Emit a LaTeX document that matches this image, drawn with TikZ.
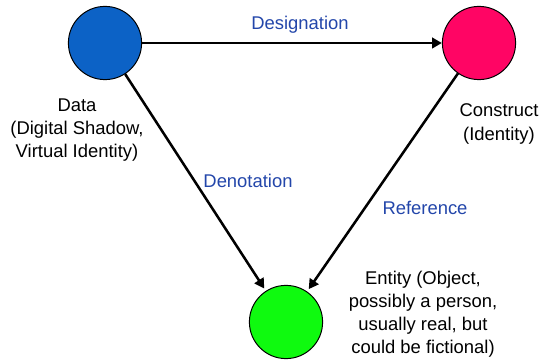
\documentclass[tikz,border=0pt]{standalone}
\usepackage{fontspec}
\setmainfont{Liberation Sans}
\usetikzlibrary{arrows.meta}
\definecolor{datablue}{RGB}{12,98,198}
\definecolor{constructpink}{RGB}{255,5,100}
\definecolor{entitygreen}{RGB}{15,250,15}
\definecolor{labelblue}{RGB}{35,70,170}
\tikzset{
  thing/.style={circle,draw=black,line width=0.7pt,minimum size=1.83cm,inner sep=0pt},
  rel/.style={line width=1.8pt,-{Triangle[length=7pt,width=7.5pt]}},
  caption/.style={align=center,font=\fontsize{13.1}{16.4}\selectfont},
  rellabel/.style={anchor=base,text=labelblue,font=\fontsize{13.1}{16.4}\selectfont}
}
\begin{document}
\begin{tikzpicture}[x=0.025cm,y=-0.025cm]
    \useasboundingbox (0,0) rectangle (547,360);
    % the three corners of the triangle
    \node [thing,fill=datablue] (data) at (105,43) {};
    \node [thing,fill=constructpink] (construct) at (479,43) {};
    \node [thing,fill=entitygreen] (entity) at (286,322) {};
    \node [caption] (datatext) at (77,130) {Data\\(Digital Shadow,\\Virtual Identity)};
    \node [caption] (constructtext) at (499,124) {Construct\\(Identity)};
    \node [caption] (entitytext) at (423,314) {Entity (Object,\\possibly a person,\\usually real, but\\could be fictional)};
    % relations
    \draw [rel] (data) -- (construct);
    \draw [rel,shorten >=2pt] (data) -- (entity);
    \draw [rel,shorten >=2pt] (construct) -- (entity);
    \node [rellabel] (designation) at (300,30) {Designation};
    \node [rellabel] (denotation) at (248,188) {Denotation};
    \node [rellabel] (reference) at (425,215) {Reference};
  \end{tikzpicture}
\end{document}
